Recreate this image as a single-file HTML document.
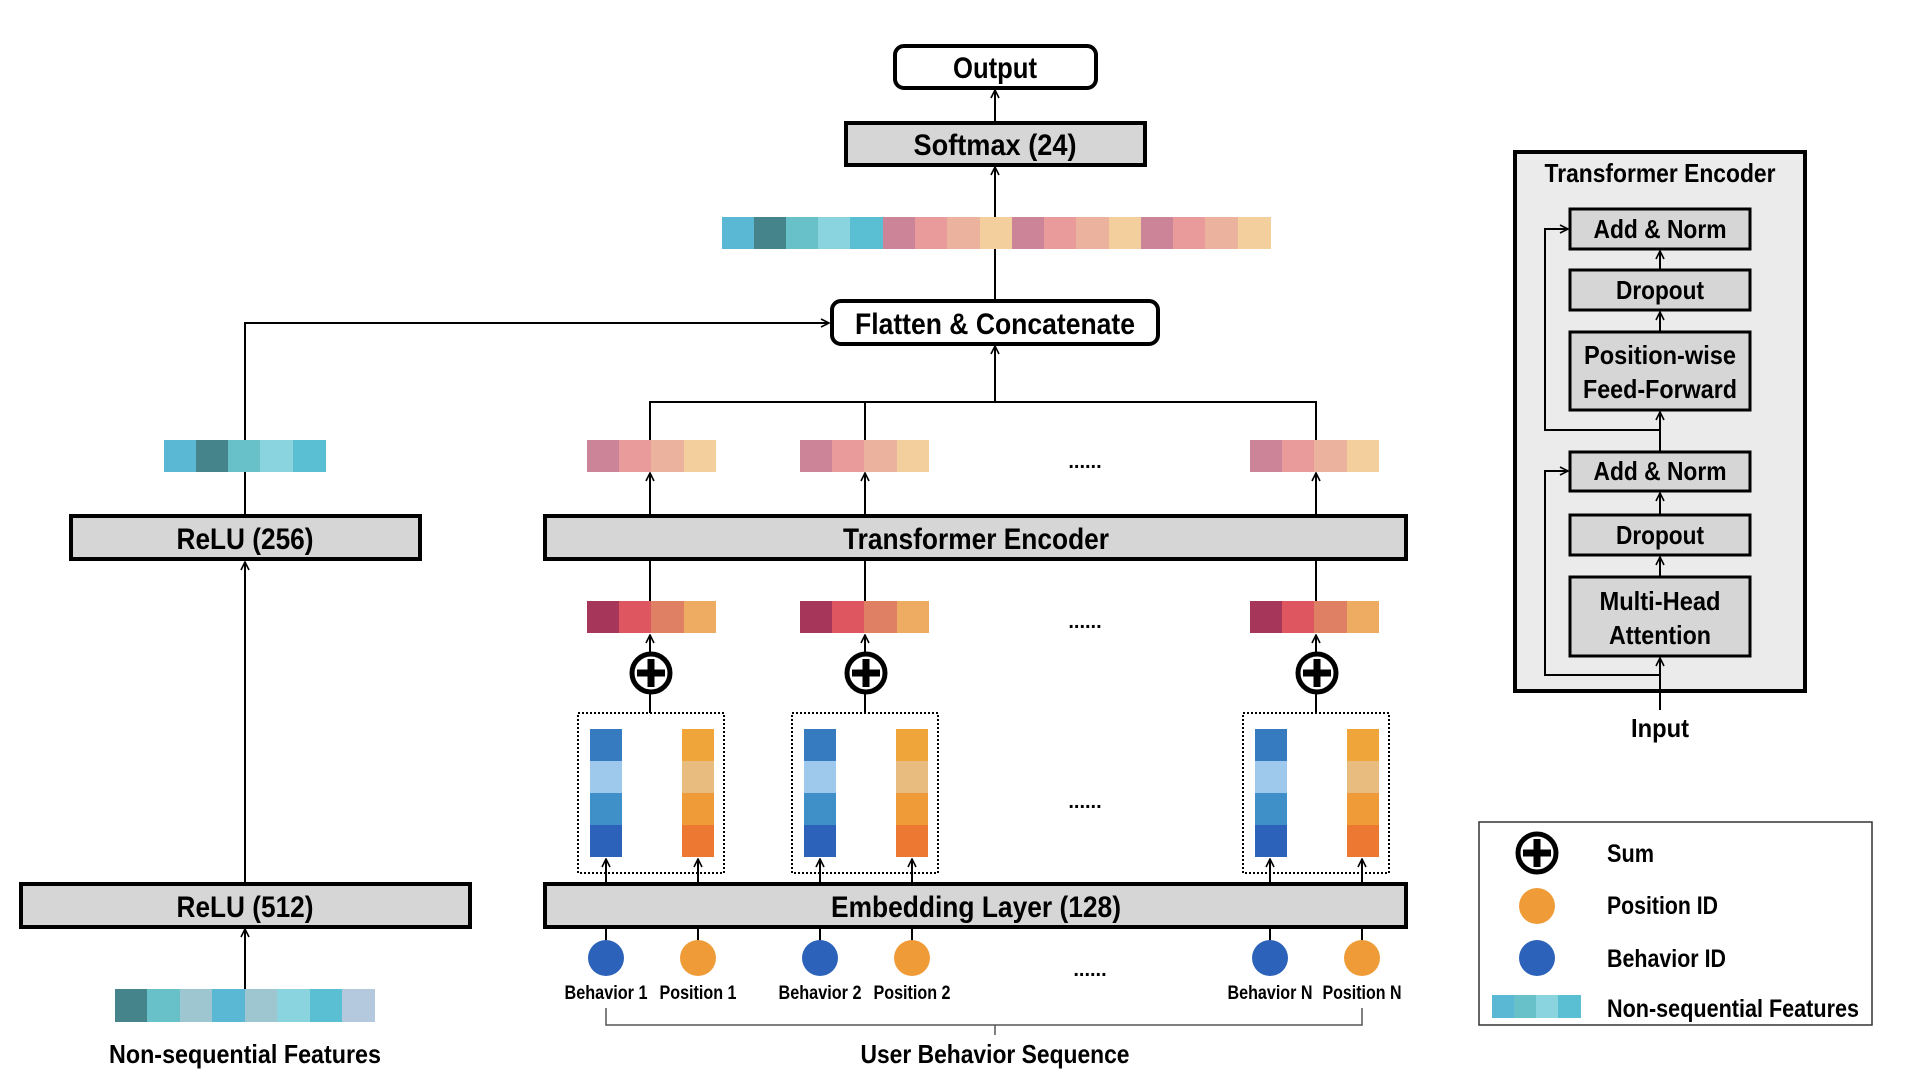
<!DOCTYPE html>
<html><head><meta charset="utf-8"><style>
html,body{margin:0;padding:0;background:#fff;width:1920px;height:1080px;overflow:hidden}
text{font-family:"Liberation Sans",sans-serif;font-weight:bold;fill:#000}
</style></head><body>
<svg width="1920" height="1080" viewBox="0 0 1920 1080" xmlns="http://www.w3.org/2000/svg">
<defs>
<marker id="a" viewBox="0 0 10 10" refX="9" refY="5" markerWidth="10" markerHeight="10" markerUnits="userSpaceOnUse" orient="auto">
<path d="M1,1 L9,5 L1,9" fill="none" stroke="#000" stroke-width="1.6"/></marker>
<g id="plus"><circle r="19" fill="#fff" stroke="#000" stroke-width="5"/><rect x="-14" y="-3.5" width="28" height="7"/><rect x="-3.5" y="-14" width="7" height="28"/></g>
<g id="ptop"><rect x="0" width="33" height="32" fill="#cc8598"/><rect x="32" width="33" height="32" fill="#e99a9a"/><rect x="64" width="33" height="32" fill="#ebb29e"/><rect x="97" width="32" height="32" fill="#f4cf9e"/></g>
<g id="plow"><rect x="0" width="33" height="32" fill="#a6365a"/><rect x="32" width="33" height="32" fill="#dd5660"/><rect x="64" width="33" height="32" fill="#df7f63"/><rect x="97" width="32" height="32" fill="#eeac63"/></g>
<g id="bars"><rect x="12" y="16" width="32" height="33" fill="#367bbf"/><rect x="12" y="48" width="32" height="33" fill="#9ec8ec"/><rect x="12" y="80" width="32" height="33" fill="#3f8fc8"/><rect x="12" y="112" width="32" height="32" fill="#2c62b9"/>
<rect x="104" y="16" width="32" height="33" fill="#efa53a"/><rect x="104" y="48" width="32" height="33" fill="#e8bc7e"/><rect x="104" y="80" width="32" height="33" fill="#ef9b38"/><rect x="104" y="112" width="32" height="32" fill="#ed7832"/>
<rect x="0" y="0" width="146" height="160" fill="none" stroke="#000" stroke-width="2" stroke-dasharray="2,2"/></g>
</defs>
<g stroke="#000" stroke-width="2" fill="none">
<line x1="995" y1="122" x2="995" y2="90" marker-end="url(#a)"/>
<line x1="995" y1="300" x2="995" y2="167" marker-end="url(#a)"/>
<line x1="995" y1="402" x2="995" y2="346" marker-end="url(#a)"/>
<polyline points="650,440 650,402 1316,402 1316,440"/>
<line x1="865" y1="402" x2="865" y2="440"/>
<polyline points="245,440 245,323 829,323" marker-end="url(#a)"/>
<line x1="245" y1="515" x2="245" y2="471"/>
<line x1="245" y1="883" x2="245" y2="562" marker-end="url(#a)"/>
<line x1="245" y1="989" x2="245" y2="929" marker-end="url(#a)"/>
<line x1="650" y1="515" x2="650" y2="473" marker-end="url(#a)"/>
<line x1="865" y1="515" x2="865" y2="473" marker-end="url(#a)"/>
<line x1="1316" y1="515" x2="1316" y2="473" marker-end="url(#a)"/>
<line x1="650" y1="601" x2="650" y2="560"/>
<line x1="865" y1="601" x2="865" y2="560"/>
<line x1="1316" y1="601" x2="1316" y2="560"/>
<line x1="650" y1="713" x2="650" y2="635" marker-end="url(#a)"/>
<line x1="865" y1="713" x2="865" y2="635" marker-end="url(#a)"/>
<line x1="1316" y1="713" x2="1316" y2="635" marker-end="url(#a)"/>
<line x1="606" y1="883" x2="606" y2="859" marker-end="url(#a)"/>
<line x1="698" y1="883" x2="698" y2="859" marker-end="url(#a)"/>
<line x1="820" y1="883" x2="820" y2="859" marker-end="url(#a)"/>
<line x1="912" y1="883" x2="912" y2="859" marker-end="url(#a)"/>
<line x1="1270" y1="883" x2="1270" y2="859" marker-end="url(#a)"/>
<line x1="1362" y1="883" x2="1362" y2="859" marker-end="url(#a)"/>
<line x1="606" y1="927" x2="606" y2="945"/><line x1="698" y1="927" x2="698" y2="945"/>
<line x1="820" y1="927" x2="820" y2="945"/><line x1="912" y1="927" x2="912" y2="945"/>
<line x1="1270" y1="927" x2="1270" y2="945"/><line x1="1362" y1="927" x2="1362" y2="945"/>
<polyline points="606,1008 606,1025 1362,1025 1362,1008" stroke="#555" stroke-width="1.5"/>
<line x1="995" y1="1025" x2="995" y2="1035" stroke="#555" stroke-width="1.5"/>
</g>
<rect x="895" y="46" width="201" height="42" rx="9" fill="#fff" stroke="#000" stroke-width="4"/>
<text x="995" y="78" font-size="30" text-anchor="middle" textLength="84" lengthAdjust="spacingAndGlyphs">Output</text>
<rect x="846" y="123" width="299" height="42" fill="#d6d6d6" stroke="#000" stroke-width="4"/>
<text x="995" y="155" font-size="30" text-anchor="middle" textLength="163" lengthAdjust="spacingAndGlyphs">Softmax (24)</text>
<g>
<rect x="722" y="217" width="33" height="32" fill="#5ab8d4"/><rect x="754" y="217" width="33" height="32" fill="#44848a"/><rect x="786" y="217" width="33" height="32" fill="#68c0c8"/><rect x="818" y="217" width="33" height="32" fill="#8ad4e0"/><rect x="850" y="217" width="33" height="32" fill="#5bbfd4"/>
<rect x="883" y="217" width="33" height="32" fill="#cc8598"/><rect x="915" y="217" width="33" height="32" fill="#e99a9a"/><rect x="947" y="217" width="33" height="32" fill="#ebb29e"/><rect x="980" y="217" width="33" height="32" fill="#f4cf9e"/>
<rect x="1012" y="217" width="33" height="32" fill="#cc8598"/><rect x="1044" y="217" width="33" height="32" fill="#e99a9a"/><rect x="1076" y="217" width="33" height="32" fill="#ebb29e"/><rect x="1109" y="217" width="33" height="32" fill="#f4cf9e"/>
<rect x="1141" y="217" width="33" height="32" fill="#cc8598"/><rect x="1173" y="217" width="33" height="32" fill="#e99a9a"/><rect x="1205" y="217" width="33" height="32" fill="#ebb29e"/><rect x="1238" y="217" width="33" height="32" fill="#f4cf9e"/>
</g>
<rect x="832" y="301" width="326" height="43" rx="9" fill="#fff" stroke="#000" stroke-width="4"/>
<text x="995" y="334" font-size="30" text-anchor="middle" textLength="280" lengthAdjust="spacingAndGlyphs">Flatten &amp; Concatenate</text>
<rect x="164" y="440" width="33" height="32" fill="#5ab8d4"/><rect x="196" y="440" width="33" height="32" fill="#44848a"/><rect x="228" y="440" width="33" height="32" fill="#68c0c8"/><rect x="260" y="440" width="33" height="32" fill="#8ad4e0"/><rect x="293" y="440" width="33" height="32" fill="#5bbfd4"/>
<use href="#ptop" x="587" y="440"/><use href="#ptop" x="800" y="440"/><use href="#ptop" x="1250" y="440"/>
<text x="1085" y="468" font-size="20" text-anchor="middle">......</text>
<rect x="71" y="516" width="349" height="43" fill="#d6d6d6" stroke="#000" stroke-width="4"/>
<text x="245" y="549" font-size="30" text-anchor="middle" textLength="137" lengthAdjust="spacingAndGlyphs">ReLU (256)</text>
<rect x="545" y="516" width="861" height="43" fill="#d6d6d6" stroke="#000" stroke-width="4"/>
<text x="976" y="549" font-size="30" text-anchor="middle" textLength="266" lengthAdjust="spacingAndGlyphs">Transformer Encoder</text>
<use href="#plow" x="587" y="601"/><use href="#plow" x="800" y="601"/><use href="#plow" x="1250" y="601"/>
<text x="1085" y="628" font-size="20" text-anchor="middle">......</text>
<use href="#plus" x="651" y="673"/><use href="#plus" x="866" y="673"/><use href="#plus" x="1317" y="673"/>
<use href="#bars" x="578" y="713"/><use href="#bars" x="792" y="713"/><use href="#bars" x="1243" y="713"/>
<text x="1085" y="808" font-size="20" text-anchor="middle">......</text>
<rect x="21" y="884" width="449" height="43" fill="#d6d6d6" stroke="#000" stroke-width="4"/>
<text x="245" y="917" font-size="30" text-anchor="middle" textLength="137" lengthAdjust="spacingAndGlyphs">ReLU (512)</text>
<rect x="545" y="884" width="861" height="43" fill="#d6d6d6" stroke="#000" stroke-width="4"/>
<text x="976" y="917" font-size="30" text-anchor="middle" textLength="290" lengthAdjust="spacingAndGlyphs">Embedding Layer (128)</text>
<circle cx="606" cy="958" r="18" fill="#2c62b9"/><circle cx="698" cy="958" r="18" fill="#ef9b38"/>
<circle cx="820" cy="958" r="18" fill="#2c62b9"/><circle cx="912" cy="958" r="18" fill="#ef9b38"/>
<circle cx="1270" cy="958" r="18" fill="#2c62b9"/><circle cx="1362" cy="958" r="18" fill="#ef9b38"/>
<text x="1090" y="976" font-size="20" text-anchor="middle">......</text>
<g font-size="19" text-anchor="middle">
<text x="606" y="999" textLength="83" lengthAdjust="spacingAndGlyphs">Behavior 1</text>
<text x="698" y="999" textLength="77" lengthAdjust="spacingAndGlyphs">Position 1</text>
<text x="820" y="999" textLength="83" lengthAdjust="spacingAndGlyphs">Behavior 2</text>
<text x="912" y="999" textLength="77" lengthAdjust="spacingAndGlyphs">Position 2</text>
<text x="1270" y="999" textLength="85" lengthAdjust="spacingAndGlyphs">Behavior N</text>
<text x="1362" y="999" textLength="79" lengthAdjust="spacingAndGlyphs">Position N</text>
</g>
<text x="995" y="1063" font-size="26" text-anchor="middle" textLength="269" lengthAdjust="spacingAndGlyphs">User Behavior Sequence</text>
<rect x="115" y="989" width="33" height="33" fill="#44848a"/><rect x="147" y="989" width="33" height="33" fill="#68c0c8"/><rect x="180" y="989" width="33" height="33" fill="#9dc6d0"/><rect x="212" y="989" width="33" height="33" fill="#5ab8d4"/><rect x="245" y="989" width="33" height="33" fill="#9dc6d0"/><rect x="277" y="989" width="33" height="33" fill="#8ad4e0"/><rect x="310" y="989" width="33" height="33" fill="#5bbfd4"/><rect x="342" y="989" width="33" height="33" fill="#b4c8de"/>
<text x="245" y="1063" font-size="26" text-anchor="middle" textLength="272" lengthAdjust="spacingAndGlyphs">Non-sequential Features</text>
<rect x="1515" y="152" width="290" height="539" fill="#ebebeb" stroke="#000" stroke-width="4"/>
<text x="1660" y="182" font-size="26" text-anchor="middle" textLength="231" lengthAdjust="spacingAndGlyphs">Transformer Encoder</text>
<g stroke="#000" stroke-width="2" fill="none">
<line x1="1660" y1="269" x2="1660" y2="251" marker-end="url(#a)"/>
<line x1="1660" y1="331" x2="1660" y2="312" marker-end="url(#a)"/>
<line x1="1660" y1="451" x2="1660" y2="412" marker-end="url(#a)"/>
<polyline points="1660,430 1545,430 1545,229 1568,229" marker-end="url(#a)"/>
<line x1="1660" y1="514" x2="1660" y2="493" marker-end="url(#a)"/>
<line x1="1660" y1="576" x2="1660" y2="557" marker-end="url(#a)"/>
<line x1="1660" y1="710" x2="1660" y2="658" marker-end="url(#a)"/>
<polyline points="1660,675 1545,675 1545,471 1568,471" marker-end="url(#a)"/>
</g>
<g fill="#d6d6d6" stroke="#000" stroke-width="3">
<rect x="1570" y="209" width="180" height="40"/><rect x="1570" y="270" width="180" height="40"/><rect x="1570" y="332" width="180" height="78"/>
<rect x="1570" y="452" width="180" height="39"/><rect x="1570" y="515" width="180" height="40"/><rect x="1570" y="577" width="180" height="79"/>
</g>
<g font-size="26" text-anchor="middle">
<text x="1660" y="238" textLength="133" lengthAdjust="spacingAndGlyphs">Add &amp; Norm</text>
<text x="1660" y="299" textLength="88" lengthAdjust="spacingAndGlyphs">Dropout</text>
<text x="1660" y="364" textLength="152" lengthAdjust="spacingAndGlyphs">Position-wise</text>
<text x="1660" y="398" textLength="154" lengthAdjust="spacingAndGlyphs">Feed-Forward</text>
<text x="1660" y="480" textLength="133" lengthAdjust="spacingAndGlyphs">Add &amp; Norm</text>
<text x="1660" y="544" textLength="88" lengthAdjust="spacingAndGlyphs">Dropout</text>
<text x="1660" y="610" textLength="121" lengthAdjust="spacingAndGlyphs">Multi-Head</text>
<text x="1660" y="644" textLength="102" lengthAdjust="spacingAndGlyphs">Attention</text>
<text x="1660" y="737" textLength="58" lengthAdjust="spacingAndGlyphs">Input</text>
</g>
<rect x="1479" y="822" width="393" height="203" fill="#fff" stroke="#333" stroke-width="1.5"/>
<use href="#plus" x="1537" y="853"/>
<circle cx="1537" cy="906" r="18" fill="#ef9b38"/>
<circle cx="1537" cy="958" r="18" fill="#2c62b9"/>
<rect x="1492" y="995" width="23" height="23" fill="#5ab8d4"/><rect x="1514" y="995" width="23" height="23" fill="#68c0c8"/><rect x="1536" y="995" width="23" height="23" fill="#8ad4e0"/><rect x="1558" y="995" width="23" height="23" fill="#5bbfd4"/>
<g font-size="25">
<text x="1607" y="862" textLength="47" lengthAdjust="spacingAndGlyphs">Sum</text>
<text x="1607" y="914" textLength="111" lengthAdjust="spacingAndGlyphs">Position ID</text>
<text x="1607" y="967" textLength="119" lengthAdjust="spacingAndGlyphs">Behavior ID</text>
<text x="1607" y="1017" textLength="252" lengthAdjust="spacingAndGlyphs">Non-sequential Features</text>
</g>
</svg>
</body></html>
